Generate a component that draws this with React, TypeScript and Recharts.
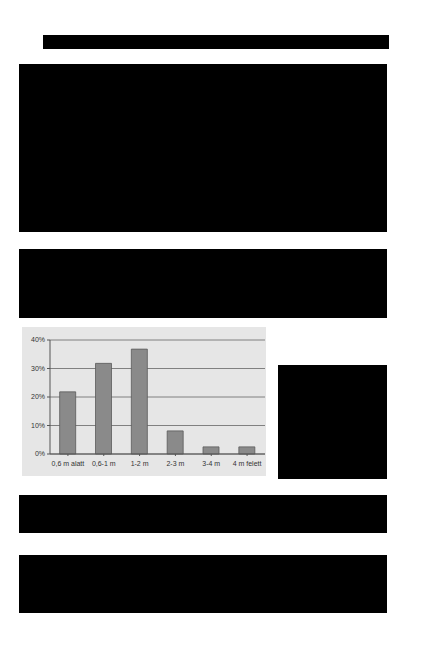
import { BarChart, Bar, XAxis, YAxis, CartesianGrid } from 'recharts';

const categories = ['0,6 m alatt', '0,6-1 m', '1-2 m', '2-3 m', '3-4 m', '4 m felett'];
const shares = [21.8, 31.8, 36.8, 8.1, 2.5, 2.5];
const yTicks = [0, 10, 20, 30, 40];

const data = categories.map((name, i) => ({ name, share: shares[i] }));

// redacted text blocks on the scanned page
const blocks = [
  { left: 43, top: 35, width: 346, height: 14 },
  { left: 19, top: 64, width: 368, height: 168 },
  { left: 19, top: 249, width: 368, height: 69 },
  { left: 278, top: 365, width: 109, height: 114 },
  { left: 19, top: 495, width: 368, height: 38 },
  { left: 19, top: 555, width: 368, height: 58 },
];

const tickStyle = { fontSize: 7, fill: '#333', fontFamily: 'Liberation Sans, Arial, sans-serif' };

export default function App() {
  return (
    <div style={{ position: 'absolute', left: 0, top: 0, width: 442, height: 670, background: '#fff' }}>
      {blocks.map((b, i) => (
        <div key={i} style={{ position: 'absolute', background: '#000', ...b }} />
      ))}
      <div style={{ position: 'absolute', left: 22, top: 327, width: 244, height: 149, background: '#e6e6e6' }}>
        <BarChart
          width={244}
          height={149}
          data={data}
          margin={{ top: 13, right: 1, left: 0, bottom: 0 }}
          barCategoryGap="27%"
        >
          <CartesianGrid vertical={false} stroke="#666" strokeWidth={0.8} />
          <XAxis
            dataKey="name"
            interval={0}
            height={22}
            tick={tickStyle}
            tickSize={2}
            tickMargin={5}
            axisLine={{ stroke: '#555' }}
            tickLine={{ stroke: '#555' }}
          />
          <YAxis
            domain={[0, 40]}
            ticks={yTicks}
            width={28}
            tickFormatter={(v: number) => `${v}%`}
            tick={tickStyle}
            tickSize={3}
            tickMargin={2}
            axisLine={{ stroke: '#555' }}
            tickLine={{ stroke: '#555' }}
          />
          <Bar dataKey="share" fill="#8a8a8a" stroke="#5a5a5a" strokeWidth={0.8} isAnimationActive={false} />
        </BarChart>
      </div>
    </div>
  );
}
